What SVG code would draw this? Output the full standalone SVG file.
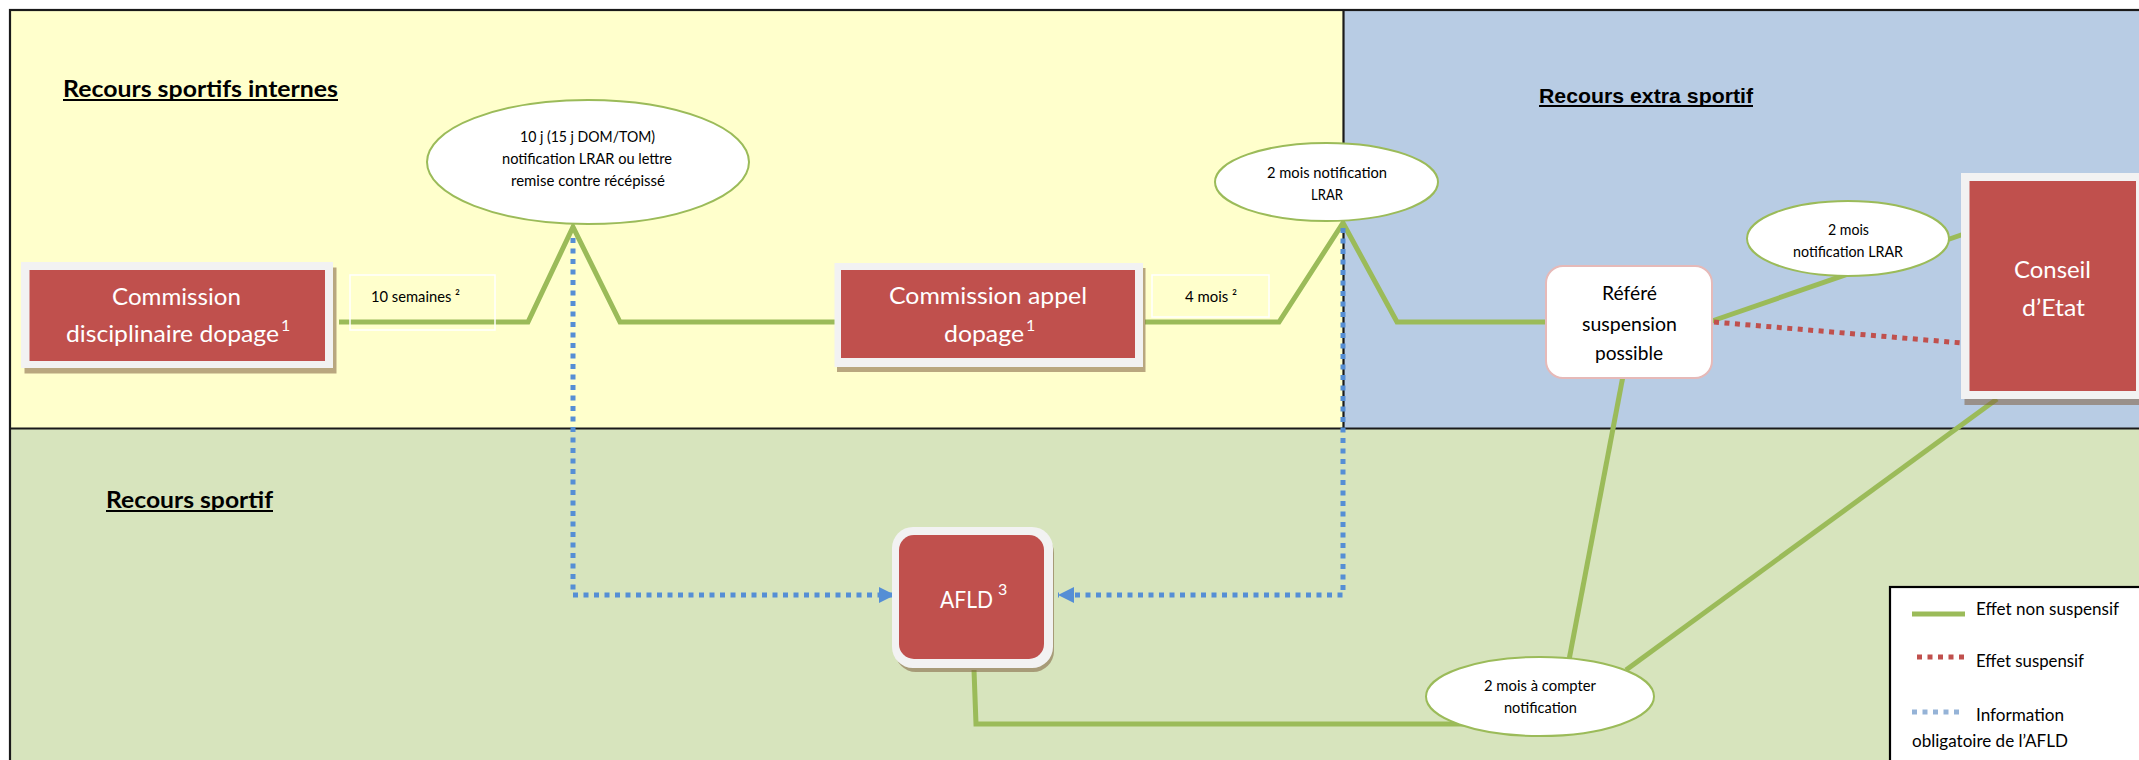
<svg xmlns="http://www.w3.org/2000/svg" width="2139" height="760" viewBox="0 0 2139 760">
<defs>
<style>
.hdr{font-family:Lato,"Liberation Sans",sans-serif;font-weight:bold;font-size:23px;fill:#000}
.hdr2{font-family:"Liberation Sans",Arial,sans-serif;font-weight:bold;font-size:21px;fill:#000}
.ul{stroke:#000;stroke-width:2.2}
.frame{fill:#F2F2F2}
.red{fill:#C0504D}
.shadow{fill:#7F5F3F;opacity:.55}
.wt{font-family:Lato,"Liberation Sans",sans-serif;fill:#fff;font-size:24px}
.sup{font-family:Lato,"Liberation Sans",sans-serif;fill:#fff;font-size:16px}
.sp{font-size:16px}
.bk{font-family:Lato,"Liberation Sans",sans-serif;fill:#000;font-size:15px}
.bk20{font-family:Lato,"Liberation Sans",sans-serif;fill:#000;font-size:20px}
.lg{font-family:Lato,"Liberation Sans",sans-serif;fill:#000;font-size:17px}
.ell{fill:#fff;stroke:#9BBB59;stroke-width:2}
.g{fill:none;stroke:#9BBB59;stroke-width:5;stroke-linejoin:miter}
.rd{fill:none;stroke:#C0504D;stroke-width:5;stroke-dasharray:5 5.5}
.bl{fill:none;stroke:#558ED5;stroke-width:5;stroke-dasharray:5 5.5}
.lbox{fill:none;stroke:#fff;stroke-width:1.5}
</style>
<marker id="arrB" markerUnits="userSpaceOnUse" markerWidth="16" markerHeight="16" refX="16" refY="8" orient="auto">
<polygon points="0,0 16,8 0,16" fill="#558ED5"/>
</marker>
</defs>

<g id="background">
<rect x="10" y="10" width="1334" height="418" fill="#FFFFCC"/>
<rect x="1344" y="10" width="800" height="418" fill="#B8CCE4"/>
<rect x="10" y="428" width="2134" height="340" fill="#D7E4BD"/>
<rect x="10" y="10" width="2140" height="770" fill="none" stroke="#1a1a1a" stroke-width="2.2"/>
<line x1="10" y1="428.5" x2="2139" y2="428.5" stroke="#1a1a1a" stroke-width="2.2"/>
<line x1="1343.5" y1="10" x2="1343.5" y2="428" stroke="#1a1a1a" stroke-width="2.2"/>
</g>

<g id="headers">
<text class="hdr" x="63" y="97" textLength="275" lengthAdjust="spacingAndGlyphs">Recours sportifs internes</text>
<line class="ul" x1="63" y1="100" x2="338" y2="100"/>
<text class="hdr2" x="1539" y="103" textLength="214" lengthAdjust="spacingAndGlyphs">Recours extra sportif</text>
<line class="ul" x1="1539" y1="106" x2="1753" y2="106"/>
<text class="hdr" x="106" y="508" textLength="167" lengthAdjust="spacingAndGlyphs">Recours sportif</text>
<line class="ul" x1="106" y1="511" x2="273" y2="511"/>
</g>

<g id="connectors">
<polyline class="g" points="339,322 528,322 573,227 620,322 836,322"/>
<polyline class="g" points="1145,322 1279,322 1343,223 1397,322 1547,322"/>
<line class="g" x1="1712" y1="321" x2="1964" y2="234"/>
<line class="g" x1="1623" y1="376" x2="1569" y2="660"/>
<line class="g" x1="1997" y1="399" x2="1626" y2="670"/>
<polyline class="g" points="974,670 976,724 1466,724"/>
<line class="rd" x1="1714" y1="322" x2="1962" y2="343"/>
<path class="bl" d="M573,238 V595 H895" marker-end="url(#arrB)"/>
<path class="bl" d="M1343,228 V595 H1058" marker-end="url(#arrB)"/>
</g>

<g id="label-10-semaines">
<rect class="lbox" x="350" y="275" width="145" height="55"/>
<text class="bk" x="371" y="302" font-size="14" textLength="89" lengthAdjust="spacingAndGlyphs">10 semaines ²</text>
</g>

<g id="label-4-mois">
<rect class="lbox" x="1152" y="275" width="117" height="42"/>
<text class="bk" x="1185" y="302" font-size="14" textLength="52" lengthAdjust="spacingAndGlyphs">4 mois ²</text>
</g>

<g id="node-commission-disciplinaire">
<rect class="shadow" x="24.5" y="267.5" width="312" height="106"/>
<rect class="frame" x="21" y="262" width="312" height="106"/>
<rect class="red" x="29.5" y="270" width="295.5" height="91"/>
<text class="wt" x="112" y="305" textLength="129" lengthAdjust="spacingAndGlyphs">Commission</text>
<text class="wt" x="66" y="342"><tspan textLength="213" lengthAdjust="spacingAndGlyphs">disciplinaire dopage</tspan><tspan class="sp" dx="2" dy="-11">1</tspan></text>
</g>

<g id="ellipse-10j">
<ellipse class="ell" cx="588" cy="162" rx="161" ry="62"/>
<text class="bk" x="520" y="142" textLength="135" lengthAdjust="spacingAndGlyphs">10 j (15 j DOM/TOM)</text>
<text class="bk" x="502" y="164" textLength="170" lengthAdjust="spacingAndGlyphs">notification LRAR ou lettre</text>
<text class="bk" x="511" y="186" textLength="154" lengthAdjust="spacingAndGlyphs">remise contre récépissé</text>
</g>

<g id="node-commission-appel">
<rect class="shadow" x="837" y="268" width="308.5" height="104"/>
<rect class="frame" x="834.5" y="263" width="308.5" height="104"/>
<rect class="red" x="841" y="270" width="294" height="88"/>
<text class="wt" x="889" y="304" textLength="198" lengthAdjust="spacingAndGlyphs">Commission appel</text>
<text class="wt" x="944" y="342"><tspan textLength="80" lengthAdjust="spacingAndGlyphs">dopage</tspan><tspan class="sp" dx="2" dy="-11">1</tspan></text>
</g>

<g id="ellipse-2mois-lrar">
<ellipse class="ell" cx="1326.5" cy="182" rx="111.5" ry="39"/>
<text class="bk" x="1267" y="178" textLength="120" lengthAdjust="spacingAndGlyphs">2 mois notification</text>
<text class="bk" x="1311" y="200" textLength="32" lengthAdjust="spacingAndGlyphs">LRAR</text>
</g>

<g id="node-refere">
<rect x="1546" y="266" width="166" height="112" rx="17" fill="#fff" stroke="#E6B9B8" stroke-width="2"/>
<text class="bk20" x="1602" y="300" textLength="55" lengthAdjust="spacingAndGlyphs">Référé</text>
<text class="bk20" x="1582" y="331" textLength="95" lengthAdjust="spacingAndGlyphs">suspension</text>
<text class="bk20" x="1595" y="360" textLength="68" lengthAdjust="spacingAndGlyphs">possible</text>
</g>

<g id="ellipse-2mois-notif">
<ellipse class="ell" cx="1848" cy="238.5" rx="101" ry="37.5"/>
<text class="bk" x="1828" y="235" textLength="41" lengthAdjust="spacingAndGlyphs">2 mois</text>
<text class="bk" x="1793" y="257" textLength="110" lengthAdjust="spacingAndGlyphs">notification LRAR</text>
</g>

<g id="node-conseil-etat">
<rect class="shadow" x="1964.5" y="179" width="190" height="226"/>
<rect class="frame" x="1961" y="173" width="190" height="226"/>
<rect class="red" x="1969.5" y="181" width="166.5" height="210"/>
<text class="wt" x="2014" y="278" font-size="25" textLength="77" lengthAdjust="spacingAndGlyphs">Conseil</text>
<text class="wt" x="2022" y="316" font-size="25" textLength="63" lengthAdjust="spacingAndGlyphs">d’Etat</text>
</g>

<g id="node-afld">
<rect class="shadow" x="895" y="532" width="159" height="140" rx="21"/>
<rect class="frame" x="892" y="527" width="161" height="141" rx="21"/>
<rect class="red" x="899" y="535" width="145" height="124" rx="15"/>
<text class="wt" x="940" y="608" textLength="53" lengthAdjust="spacingAndGlyphs">AFLD</text>
<text class="sup" x="998" y="595">3</text>
</g>

<g id="ellipse-2mois-compter">
<ellipse class="ell" cx="1540" cy="696.5" rx="114" ry="39.5"/>
<text class="bk" x="1484" y="691" textLength="112" lengthAdjust="spacingAndGlyphs">2 mois à compter</text>
<text class="bk" x="1504" y="713" textLength="73" lengthAdjust="spacingAndGlyphs">notification</text>
</g>

<g id="legend">
<rect x="1890" y="587" width="260" height="190" fill="#fff" stroke="#000" stroke-width="2.2"/>
<line x1="1912" y1="614" x2="1965" y2="614" stroke="#9BBB59" stroke-width="5"/>
<text class="lg" x="1976" y="615" textLength="143" lengthAdjust="spacingAndGlyphs">Effet non suspensif</text>
<line x1="1917" y1="657" x2="1966" y2="657" stroke="#C0504D" stroke-width="5" stroke-dasharray="5 5.5"/>
<text class="lg" x="1976" y="667" textLength="108" lengthAdjust="spacingAndGlyphs">Effet suspensif</text>
<line x1="1912" y1="712" x2="1961" y2="712" stroke="#95B3D7" stroke-width="5" stroke-dasharray="5 5.5"/>
<text class="lg" x="1976" y="721" textLength="88" lengthAdjust="spacingAndGlyphs">Information</text>
<text class="lg" x="1912" y="747" textLength="156" lengthAdjust="spacingAndGlyphs">obligatoire de l’AFLD</text>
</g>
</svg>
